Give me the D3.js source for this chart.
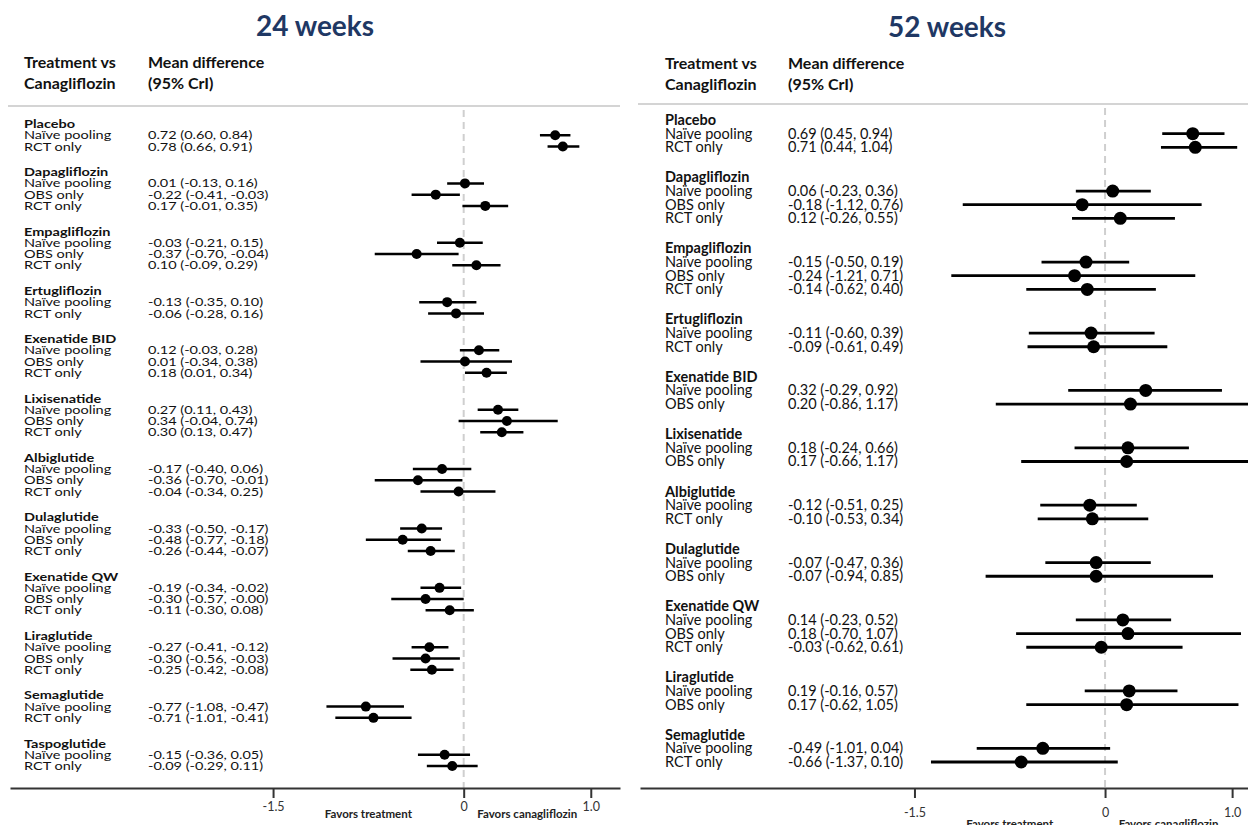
<!DOCTYPE html>
<html>
<head>
<meta charset="utf-8">
<script src="https://cdn.jsdelivr.net/npm/d3@7"></script>
<style>
  body { margin: 0; background: #fff; }
  text { font-family: Lato, "Open Sans", sans-serif; }
</style>
</head>
<body>
<svg width="1248" height="825"></svg>
<script>
// ---- 24 weeks ----
var drugs24 = ["Placebo", "Dapagliflozin", "Empagliflozin", "Ertugliflozin", "Exenatide BID",
  "Lixisenatide", "Albiglutide", "Dulaglutide", "Exenatide QW", "Liraglutide", "Semaglutide", "Taspoglutide"];
var methods24 = [
  ["Naïve pooling", "RCT only"],
  ["Naïve pooling", "OBS only", "RCT only"],
  ["Naïve pooling", "OBS only", "RCT only"],
  ["Naïve pooling", "RCT only"],
  ["Naïve pooling", "OBS only", "RCT only"],
  ["Naïve pooling", "OBS only", "RCT only"],
  ["Naïve pooling", "OBS only", "RCT only"],
  ["Naïve pooling", "OBS only", "RCT only"],
  ["Naïve pooling", "OBS only", "RCT only"],
  ["Naïve pooling", "OBS only", "RCT only"],
  ["Naïve pooling", "RCT only"],
  ["Naïve pooling", "RCT only"]
];
var mean24 = [[0.72, 0.78], [0.01, -0.22, 0.17], [-0.03, -0.37, 0.10], [-0.13, -0.06], [0.12, 0.01, 0.18],
  [0.27, 0.34, 0.30], [-0.17, -0.36, -0.04], [-0.33, -0.48, -0.26], [-0.19, -0.30, -0.11],
  [-0.27, -0.30, -0.25], [-0.77, -0.71], [-0.15, -0.09]];
var lo24 = [[0.60, 0.66], [-0.13, -0.41, -0.01], [-0.21, -0.70, -0.09], [-0.35, -0.28], [-0.03, -0.34, 0.01],
  [0.11, -0.04, 0.13], [-0.40, -0.70, -0.34], [-0.50, -0.77, -0.44], [-0.34, -0.57, -0.30],
  [-0.41, -0.56, -0.42], [-1.08, -1.01], [-0.36, -0.29]];
var hi24 = [[0.84, 0.91], [0.16, -0.03, 0.35], [0.15, -0.04, 0.29], [0.10, 0.16], [0.28, 0.38, 0.34],
  [0.43, 0.74, 0.47], [0.06, -0.01, 0.25], [-0.17, -0.18, -0.07], [-0.02, -0.00, 0.08],
  [-0.12, -0.03, -0.08], [-0.47, -0.41], [0.05, 0.11]];

// ---- 52 weeks ----
var drugs52 = ["Placebo", "Dapagliflozin", "Empagliflozin", "Ertugliflozin", "Exenatide BID",
  "Lixisenatide", "Albiglutide", "Dulaglutide", "Exenatide QW", "Liraglutide", "Semaglutide"];
var methods52 = [
  ["Naïve pooling", "RCT only"],
  ["Naïve pooling", "OBS only", "RCT only"],
  ["Naïve pooling", "OBS only", "RCT only"],
  ["Naïve pooling", "RCT only"],
  ["Naïve pooling", "OBS only"],
  ["Naïve pooling", "OBS only"],
  ["Naïve pooling", "RCT only"],
  ["Naïve pooling", "OBS only"],
  ["Naïve pooling", "OBS only", "RCT only"],
  ["Naïve pooling", "OBS only"],
  ["Naïve pooling", "RCT only"]
];
var mean52 = [[0.69, 0.71], [0.06, -0.18, 0.12], [-0.15, -0.24, -0.14], [-0.11, -0.09], [0.32, 0.20],
  [0.18, 0.17], [-0.12, -0.10], [-0.07, -0.07], [0.14, 0.18, -0.03], [0.19, 0.17], [-0.49, -0.66]];
var lo52 = [[0.45, 0.44], [-0.23, -1.12, -0.26], [-0.50, -1.21, -0.62], [-0.60, -0.61], [-0.29, -0.86],
  [-0.24, -0.66], [-0.51, -0.53], [-0.47, -0.94], [-0.23, -0.70, -0.62], [-0.16, -0.62], [-1.01, -1.37]];
var hi52 = [[0.94, 1.04], [0.36, 0.76, 0.55], [0.19, 0.71, 0.40], [0.39, 0.49], [0.92, 1.17],
  [0.66, 1.17], [0.25, 0.34], [0.36, 0.85], [0.52, 1.07, 0.61], [0.57, 1.05], [0.04, 0.10]];

var tickValues = [-1.5, 0, 1.0];

var svg = d3.select("svg");

function fmt(v) {
  return (v < 0 || Object.is(v, -0) ? "-" : "") + Math.abs(v).toFixed(2);
}
function fmtTick(v) {
  return v === 0 ? "0" : (v < 0 ? "-" : "") + Math.abs(v).toFixed(1);
}

// lay rows out in "slots"; a gap between drugs is worth gapSlots extra
function buildRows(drugs, methods, means, los, his, gapSlots) {
  var labels = [], items = [], slot = 0;
  drugs.forEach(function(drug, i) {
    labels.push({ text: drug, slot: slot });
    methods[i].forEach(function(m, j) {
      items.push({ method: m, mean: means[i][j], lo: los[i][j], hi: his[i][j], slot: slot + j + 1 });
    });
    slot += methods[i].length + 1 + gapSlots;
  });
  return { labels: labels, items: items, last: slot - 1 - gapSlots };
}

function drawPanel(cfg, rows) {
  var g = svg.append("g");
  var x = d3.scaleLinear().domain(cfg.xDomain).range(cfg.xRange);
  var y = d3.scaleLinear().domain([0, rows.last]).range([cfg.yFirst, cfg.yLast]);

  g.append("text")
      .attr("x", cfg.titleX).attr("y", cfg.titleY)
      .attr("text-anchor", "middle")
      .style("font-size", "28px").style("font-weight", 700)
      .style("fill", "#1f3864")
      .text(cfg.title);

  var head = [["Treatment vs", "Canagliflozin"], ["Mean difference", "(95% CrI)"]];
  [cfg.labelX, cfg.valueX].forEach(function(hx, i) {
    head[i].forEach(function(t, k) {
      g.append("text")
          .attr("x", hx).attr("y", cfg.headY + k * 21)
          .style("font-size", "16px").style("font-weight", 700)
          .style("fill", "#111")
          .text(t);
    });
  });

  g.append("line")
      .attr("x1", cfg.xRange[0] - 2).attr("x2", cfg.xRange[1])
      .attr("y1", cfg.ruleY).attr("y2", cfg.ruleY)
      .style("stroke", "#d4d4d4").style("stroke-width", 2);

  // zero reference line
  g.append("line")
      .attr("x1", x(0)).attr("x2", x(0))
      .attr("y1", cfg.ruleY + 4).attr("y2", cfg.axisY)
      .style("stroke", "#cfcfcf").style("stroke-width", 2)
      .style("stroke-dasharray", "7,5");

  var sy = cfg.textScaleY;
  function rowText(sel, xPos, getText, bold) {
    sel.append("text")
        .attr("transform", function(d) { return "translate(" + xPos + "," + (y(d.slot) + 5 * sy) + ") scale(1," + sy + ")"; })
        .style("font-size", "14.5px")
        .style("font-weight", bold ? 700 : 400)
        .style("fill", "#111")
        .text(getText);
  }

  rowText(g.selectAll(".lab").data(rows.labels).enter(), cfg.labelX, function(d) { return d.text; }, true);
  rowText(g.selectAll(".meth").data(rows.items).enter(), cfg.labelX, function(d) { return d.method; }, false);
  rowText(g.selectAll(".val").data(rows.items).enter(), cfg.valueX,
    function(d) { return fmt(d.mean) + " (" + fmt(d.lo) + ", " + fmt(d.hi) + ")"; }, false);

  var est = g.selectAll(".est").data(rows.items).enter().append("g");
  est.append("line")
      .attr("x1", function(d) { return x(d.lo); })
      .attr("x2", function(d) { return x(d.hi); })
      .attr("y1", function(d) { return y(d.slot); })
      .attr("y2", function(d) { return y(d.slot); })
      .style("stroke", "#000").style("stroke-width", cfg.barWidth);
  est.append("circle")
      .attr("cx", function(d) { return x(d.mean); })
      .attr("cy", function(d) { return y(d.slot); })
      .attr("r", cfg.dotR)
      .style("fill", "#000");

  var axis = g.append("g")
      .attr("transform", "translate(0," + cfg.axisY + ")")
      .call(d3.axisBottom(x).tickValues(tickValues).tickFormat(fmtTick)
        .tickSize(10).tickSizeOuter(0).tickPadding(cfg.tickPad));
  axis.select(".domain").style("stroke", "#333").style("stroke-width", 2);
  axis.selectAll(".tick line").style("stroke", "#333").style("stroke-width", 2);
  axis.selectAll(".tick text")
      .style("font-family", "Lato, sans-serif").style("font-size", "12.5px").style("fill", "#333");

  g.selectAll(".favors").data([[-0.75, "Favors treatment"], [0.5, "Favors canagliflozin"]])
    .enter().append("text")
      .attr("x", function(d) { return x(d[0]); })
      .attr("y", cfg.favorsY)
      .attr("text-anchor", "middle")
      .style("font-size", "11.5px").style("font-weight", 700)
      .style("fill", "#222")
      .text(function(d) { return d[1]; });
}

drawPanel({
  title: "24 weeks", titleX: 315, titleY: 36,
  labelX: 24, valueX: 148, headY: 68, ruleY: 106,
  xDomain: [-3.57, 1.23], xRange: [10, 620],
  yFirst: 124, yLast: 766, textScaleY: 0.82,
  barWidth: 2.5, dotR: 5, axisY: 788, tickPad: 4, favorsY: 818
}, buildRows(drugs24, methods24, mean24, lo24, hi24, 1.28));

drawPanel({
  title: "52 weeks", titleX: 947, titleY: 37,
  labelX: 665, valueX: 788, headY: 69, ruleY: 104,
  xDomain: [-3.66, 1.125], xRange: [640, 1248],
  yFirst: 120, yLast: 762, textScaleY: 1,
  barWidth: 2.8, dotR: 6.5, axisY: 788, tickPad: 10, favorsY: 828
}, buildRows(drugs52, methods52, mean52, lo52, hi52, 1.2));
</script>
</body>
</html>
